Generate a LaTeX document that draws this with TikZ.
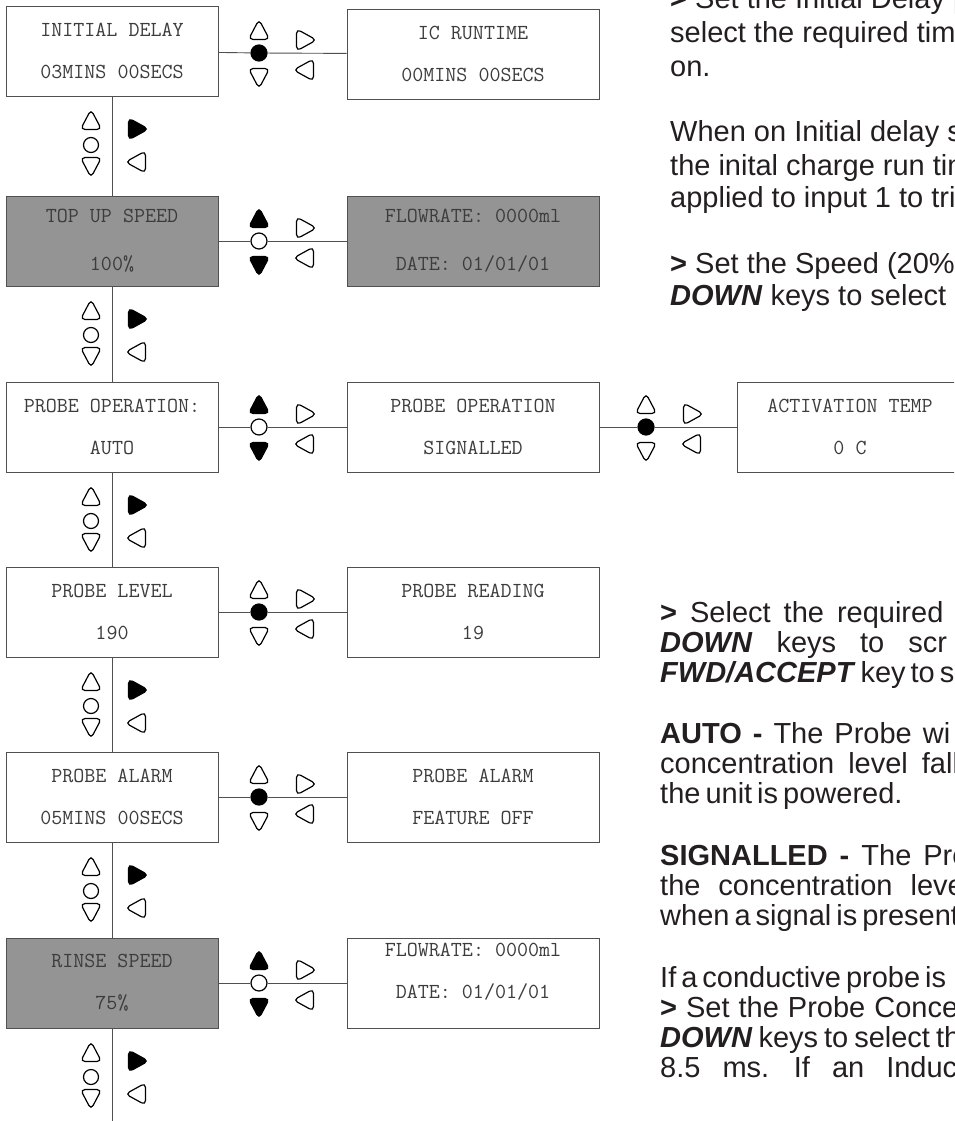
\documentclass[tikz,border=0pt]{standalone}
\usepackage{fontspec}
\setmainfont{Liberation Sans}
\usetikzlibrary{positioning}

\definecolor{lcdgrey}{HTML}{949494}
\definecolor{rimgrey}{HTML}{505050}
\definecolor{lcdink}{HTML}{3C3C3C}
\definecolor{noteink}{HTML}{231F20}

\begin{document}
\begin{tikzpicture}[x=1pt,y=-1pt,
  lcd/.style={draw=rimgrey,line width=0.9pt,fill=white,minimum height=90pt,
    inner sep=0pt,align=center,text=lcdink,
    font=\ttfamily\fontsize{21.4}{42}\selectfont},
  lcdleft/.style={lcd,minimum width=212pt},
  lcdright/.style={lcd,minimum width=252pt},
  greyed/.style={fill=lcdgrey},
  tall/.style={font=\ttfamily\fontsize{21.4}{48}\selectfont},
  wide/.style={font=\ttfamily\fontsize{21.4}{#1}\selectfont\addfontfeatures{LetterSpace=12}},
  wire/.style={draw=rimgrey,line width=0.9pt},
  keyo/.style={draw=black,line width=1.2pt,fill=white},
  keyf/.style={draw=black,line width=1.2pt,fill=black},
  junction/.style={circle,minimum size=16pt,inner sep=0pt},
  note/.style={anchor=base west,inner sep=0pt,text=noteink,
    font=\fontsize{29}{33}\selectfont},
  wordgap/.style={execute at begin node={\spaceskip=#1pt\relax}},
  keyup/.pic={\path[pic actions,rounded corners=4.5pt] (-10.5,8.5) -- (0,-11.5) -- (10.5,8.5) -- cycle;},
  keydown/.pic={\path[pic actions,rounded corners=4.5pt] (-10.5,-8.5) -- (0,11.5) -- (10.5,-8.5) -- cycle;},
  keyright/.pic={\path[pic actions,rounded corners=4.5pt] (-8.5,-11) -- (11.5,0) -- (-8.5,11) -- cycle;},
  keyleft/.pic={\path[pic actions,rounded corners=4.5pt] (8.5,-11) -- (-11.5,0) -- (8.5,11) -- cycle;},
]
\useasboundingbox (0,0) rectangle (954,1121);
\clip (0,0) rectangle (954,1121);

% Menu screens, first column
\node[lcdleft] (delay) at (112,51) {INITIAL DELAY\\03MINS 00SECS};
\node[lcdleft,greyed,tall] (topup) at (112,241) {TOP UP SPEED\\100\%};
\node[lcdleft] (operation) at (112,427) {PROBE OPERATION:\\AUTO};
\node[lcdleft] (level) at (112,612) {PROBE LEVEL\\190};
\node[lcdleft] (alarm) at (112,797) {PROBE ALARM\\05MINS 00SECS};
\node[lcdleft,greyed] (rinse) at (112,983) {RINSE SPEED\\75\%};
\coordinate (tail) at (112,1125);

% Sub screens
\node[lcdright] (runtime) at (473,54) {IC RUNTIME\\00MINS 00SECS};
\node[lcdright,greyed,wide=48] (topupflow) at (473,241) {FLOWRATE: 0000ml\\DATE: 01/01/01};
\node[lcdright] (signalled) at (473,427) {PROBE OPERATION\\SIGNALLED};
\node[lcdright] (reading) at (473,612) {PROBE READING\\19};
\node[lcdright] (alarmoff) at (473,797) {PROBE ALARM\\FEATURE OFF};
\node[lcdright,wide=42,text depth=25pt] (rinseflow) at (473,983) {FLOWRATE: 0000ml\\DATE: 01/01/01};
\node[lcd,minimum width=226pt] (acttemp) at (850,427) {ACTIVATION TEMP\\0 C};

% Junctions
\node[junction,keyf] (j1) at (259,53) {};
\node[junction,keyo] (j2) at (259,241) {};
\node[junction,keyo] (j3) at (259,427) {};
\node[junction,keyf] (j4) at (646,427) {};
\node[junction,keyf] (j5) at (259,612) {};
\node[junction,keyf] (j6) at (259,797) {};
\node[junction,keyo] (j7) at (259,983) {};

% Connectors
\draw[wire] (delay) -- (j1) -- (runtime);
\draw[wire] (topup) -- (j2) -- (topupflow);
\draw[wire] (operation) -- (j3) -- (signalled);
\draw[wire] (signalled) -- (j4) -- (acttemp);
\draw[wire] (level) -- (j5) -- (reading);
\draw[wire] (alarm) -- (j6) -- (alarmoff);
\draw[wire] (rinse) -- (j7) -- (rinseflow);
\draw[wire] (delay) -- (topup);
\draw[wire] (topup) -- (operation);
\draw[wire] (operation) -- (level);
\draw[wire] (level) -- (alarm);
\draw[wire] (alarm) -- (rinse);
\draw[wire] (rinse) -- (tail);

% Keys beside the junctions
\foreach \jx/\jy/\kf in {259/53/white,259/241/black,259/427/black,646/427/white,
    259/612/white,259/797/white,259/983/black}{
  \pic[keyo,fill=\kf] at (\jx,\jy-22) {keyup};
  \pic[keyo,fill=\kf] at (\jx,\jy+24) {keydown};
  \pic[keyo] at (\jx+46,\jy-13) {keyright};
  \pic[keyo] at (\jx+46,\jy+17) {keyleft};
}

% Keys beside the vertical links
\foreach \b in {96,286,472,657,842,1028}{
  \pic[keyo] at (91,\b+25) {keyup};
  \draw[keyo] (91,\b+49) circle (7.5);
  \pic[keyo] at (91,\b+70) {keydown};
  \pic[keyf] at (137,\b+33) {keyright};
  \pic[keyo] at (137,\b+66) {keyleft};
}

% Notes
\node[note] (n1) at (670,9) {\textbf{>} Set the Initial Delay p};
\node[note] (n2) at (670,43) {select the required tim};
\node[note] (n3) at (670,77) {on.};
\node[note] (n4) at (670,142) {When on Initial delay s};
\node[note] (n5) at (670,175) {the inital charge run tim};
\node[note] (n6) at (670,207) {applied to input 1 to trig};
\node[note] (n7) at (670,273) {\textbf{>} Set the Speed (20\% -};
\node[note] (n8) at (670,305) {\textbf{\textit{DOWN}} keys to select a};

\node[note,wordgap=13] (n9) at (660,622) {\textbf{>} Select the required};
\node[note,wordgap=24] (n10) at (660,652) {\textbf{\textit{DOWN}} keys to scr};
\node[note,wordgap=5] (n11) at (660,682) {\textbf{\textit{FWD/ACCEPT}} key to s};
\node[note,wordgap=11] (n12) at (660,743) {\textbf{AUTO -} The Probe wi};
\node[note,wordgap=14] (n13) at (660,773) {concentration level fall};
\node[note,wordgap=5] (n14) at (660,803) {the unit is powered.};
\node[note,wordgap=12] (n15) at (660,865) {\textbf{SIGNALLED -} The Pro};
\node[note,wordgap=18] (n16) at (660,895) {the concentration leve};
\node[note,wordgap=5] (n17) at (660,925) {when a signal is present};
\node[note,wordgap=5] (n18) at (660,987) {If a conductive probe is};
\node[note,wordgap=9] (n19) at (660,1017) {\textbf{>} Set the Probe Conce};
\node[note,wordgap=6] (n20) at (660,1047) {\textbf{\textit{DOWN}} keys to select th};
\node[note,wordgap=22] (n21) at (660,1077) {8.5 ms. If an Induc};

\end{tikzpicture}
\end{document}
